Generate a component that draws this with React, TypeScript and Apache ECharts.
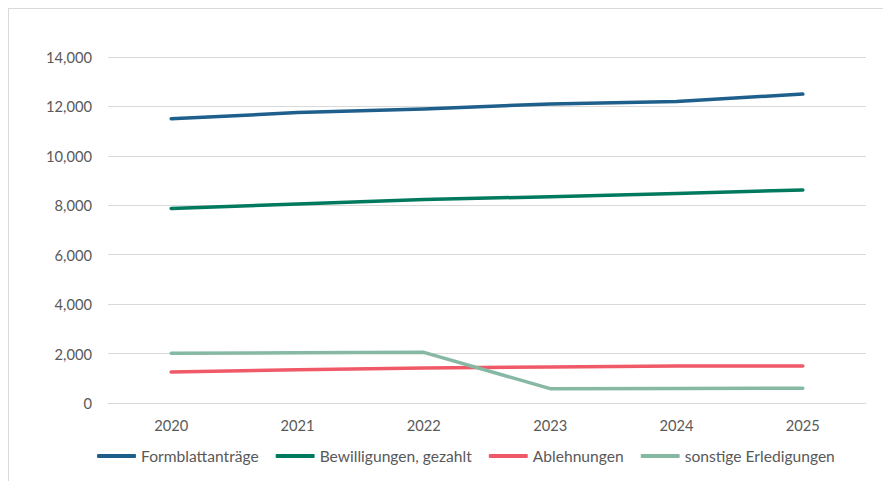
import React, { useEffect, useRef } from "react";
import * as echarts from "echarts";

const years = ["2020", "2021", "2022", "2023", "2024", "2025"];
const formblattantraege = [11500, 11750, 11900, 12100, 12200, 12500];
const bewilligungen = [7870, 8050, 8230, 8350, 8480, 8620];
const ablehnungen = [1250, 1350, 1420, 1460, 1500, 1500];
const sonstige = [2010, 2030, 2050, 580, 585, 600];

const seriesNames = ["Formblattanträge", "Bewilligungen, gezahlt", "Ablehnungen", "sonstige Erledigungen"];
const seriesColors = ["#1F5F8B", "#007A5E", "#F05A68", "#86B8A4"];

export default function App() {
  const ref = useRef<HTMLDivElement>(null);
  useEffect(() => {
    if (!ref.current) return;
    const chart = echarts.init(ref.current, null, { renderer: "svg" });
    const data = [formblattantraege, bewilligungen, ablehnungen, sonstige];
    const font = "Lato, 'Noto Sans', sans-serif";
    chart.setOption({
      animation: false,
      textStyle: { fontFamily: font },
      grid: { left: 100, right: 25, top: 49, bottom: 78, containLabel: false },
      legend: {
        bottom: 12,
        left: 84,
        itemWidth: 39,
        itemHeight: 4,
        itemGap: 17,
        icon: "roundRect",
        textStyle: { color: "#595959", fontSize: 15.6, fontFamily: font, padding: [0, 0, 0, 0] },
        data: seriesNames,
      },
      xAxis: {
        type: "category",
        data: years,
        boundaryGap: true,
        axisLine: { show: true, lineStyle: { color: "#d9d9d9", width: 1 } },
        axisTick: { show: false },
        axisLabel: { color: "#595959", fontSize: 14.7, margin: 14, fontFamily: font },
      },
      yAxis: {
        type: "value",
        min: 0,
        max: 14000,
        interval: 2000,
        axisLine: { show: false },
        axisTick: { show: false },
        splitLine: { lineStyle: { color: "#d9d9d9", width: 1 } },
        axisLabel: {
          color: "#595959",
          fontSize: 14.7,
          margin: 16,
          fontFamily: font,
          formatter: (v: number) => v.toLocaleString("en-US"),
        },
      },
      series: seriesNames.map((name, i) => ({
        name,
        type: "line",
        data: data[i],
        showSymbol: false,
        symbol: "none",
        color: seriesColors[i],
        lineStyle: { width: 3.5, color: seriesColors[i], cap: "round", join: "round" },
      })),
    });
    return () => chart.dispose();
  }, []);
  return (
    <div
      style={{
        width: 883,
        height: 473,
        boxSizing: "border-box",
        borderTop: "1px solid #d9d9d9",
        borderLeft: "1px solid #d9d9d9",
        position: "relative",
        overflow: "hidden",
      }}
    >
      <div ref={ref} style={{ position: "absolute", left: -1, top: -1, width: 883, height: 473 }} />
    </div>
  );
}
